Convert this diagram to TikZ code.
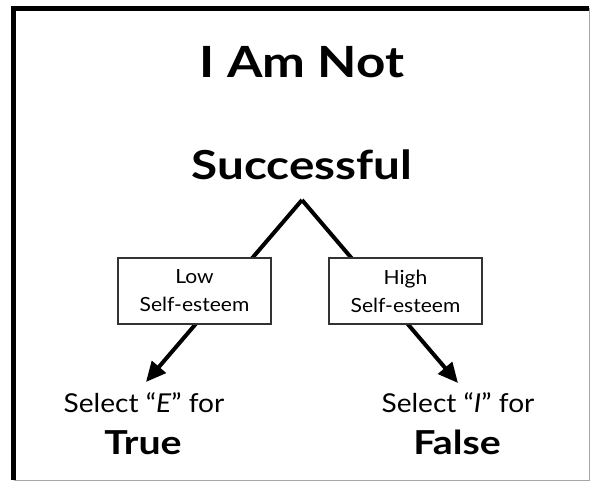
\documentclass[tikz,border=0pt]{standalone}
\usepackage{fontspec}
\setmainfont{Lato}[FakeStretch=1.08]
\newfontfamily\widebold{Lato}[FakeStretch=1.19,UprightFont=*-Bold]
\usetikzlibrary{arrows.meta}
\tikzset{
  choice/.style={draw=black!80, line width=1.2pt, fill=white, minimum width=153pt,
    minimum height=66pt, inner sep=0pt, align=center, font=\fontsize{19.5}{28}\selectfont},
  branch/.style={line width=4pt, -{Triangle[length=20pt,width=18pt]}},
  big/.style={anchor=base, font=\widebold\fontsize{43}{50}\selectfont},
  answer/.style={anchor=base, font=\widebold\fontsize{33}{40}\selectfont},
  prompt/.style={anchor=base, font=\fontsize{26}{30}\selectfont}
}

\begin{document}
\begin{tikzpicture}[x=1pt,y=-1pt]
\useasboundingbox (0,0) rectangle (590,484);
% frame
\draw[black!35, line width=1pt] (589,8.5) -- (589,480) -- (13.5,480);
\draw[line width=5pt] (13.5,480) -- (13.5,8.5) -- (589,8.5);
% statement
\path (302,78) node[big] (title) {I Am Not};
\path (302,180) node[big, font=\widebold\fontsize{40}{48}\selectfont] (word) {Successful};
% branches
\coordinate (apex) at (302,200);
\coordinate (lowend) at (146,382);
\coordinate (highend) at (458,383);
\draw[branch] (apex) -- (lowend);
\draw[branch] (apex) -- (highend);
\path (194.5,291) node[choice] (low) {Low\\Self-esteem};
\path (405.5,291) node[choice] (high) {High\\Self-esteem};
% answers
\path (144,412) node[prompt] (selE) {Select “\textit{E}” for};
\path (143,454) node[answer] (true) {True};
\path (458,412) node[prompt] (selI) {Select “\textit{I}” for};
\path (457,454) node[answer] (false) {False};
\end{tikzpicture}
\end{document}
